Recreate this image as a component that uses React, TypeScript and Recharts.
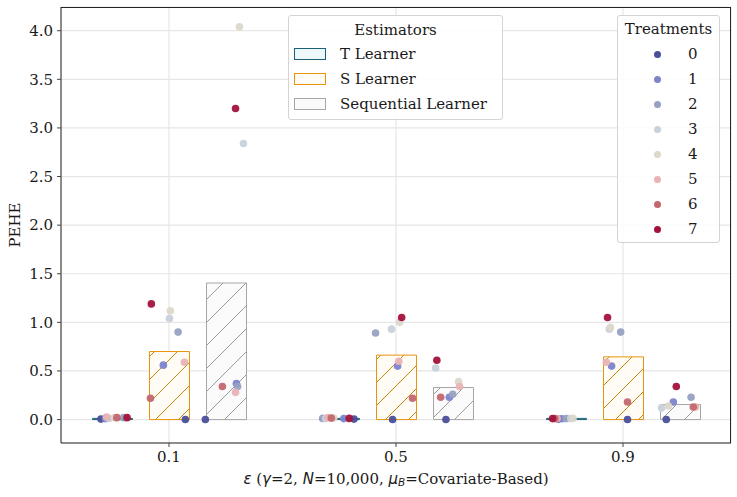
import React from "react";
import { ComposedChart, Bar, Scatter, XAxis, YAxis, CartesianGrid, Label } from "recharts";

const epsilons = ["0.1", "0.5", "0.9"];
const estimators = ["T Learner", "S Learner", "Sequential Learner"];
const treatments = ["0", "1", "2", "3", "4", "5", "6", "7"];
const treatmentColors = ["#4a4f9a", "#7c84cc", "#97a2c2", "#c9d1db", "#dcd8ca", "#e9b3b4", "#c4676f", "#a3123c"];
const estimatorEdge = ["#1b6175", "#e8940c", "#a6a6a6"];
const estimatorFill = ["#eef7f9", "#fffcf5", "#fbfbfb"];
const estimatorHatch = ["#1b6175", "#c8860f", "#9a9a9a"];

const yTicks = [0, 0.5, 1, 1.5, 2, 2.5, 3, 3.5, 4];

// Bar heights (mean PEHE) per epsilon
const tLearnerPEHE = [0.012, 0.012, 0.012];
const sLearnerPEHE = [0.70, 0.663, 0.645];
const seqLearnerPEHE = [1.405, 0.33, 0.155];

// Per-treatment PEHE at epsilon 0.1, 0.5, 0.9
const tLearnerPoints = [
  [0.005, 0.005, 0.005],
  [0.01, 0.01, 0.008],
  [0.02, 0.012, 0.01],
  [0.012, 0.01, 0.01],
  [0.02, 0.015, 0.012],
  [0.025, 0.02, 0.01],
  [0.02, 0.015, 0.01],
  [0.02, 0.012, 0.01],
];
const sLearnerPoints = [
  [0, 0, 0],
  [0.56, 0.55, 0.55],
  [0.9, 0.89, 0.9],
  [1.04, 0.93, 0.93],
  [1.12, 1.0, 0.95],
  [0.59, 0.6, 0.59],
  [0.22, 0.22, 0.18],
  [1.19, 1.05, 1.05],
];
const seqLearnerPoints = [
  [0, 0, 0],
  [0.37, 0.23, 0.18],
  [0.34, 0.26, 0.23],
  [2.84, 0.53, 0.12],
  [4.04, 0.39, 0.14],
  [0.28, 0.34, 0.13],
  [0.34, 0.23, 0.13],
  [3.2, 0.61, 0.34],
];

// Strip-plot jitter (category units) per treatment at epsilon 0.1, 0.5, 0.9
const tLearnerJitter = [
  [-0.05, 0.065, -0.035],
  [-0.03, 0.02, -0.02],
  [0.05, -0.073, 0.0],
  [-0.015, -0.06, 0.02],
  [0.01, -0.024, 0.03],
  [-0.025, -0.05, -0.04],
  [0.02, -0.035, -0.05],
  [0.065, 0.044, -0.06],
];
const sLearnerJitter = [
  [0.072, -0.015, 0.02],
  [-0.025, 0.007, -0.05],
  [0.04, -0.09, -0.01],
  [0.002, -0.02, -0.06],
  [0.006, 0.016, -0.055],
  [0.068, 0.012, -0.073],
  [-0.082, 0.073, 0.02],
  [-0.078, 0.025, -0.068],
];
const seqLearnerJitter = [
  [-0.09, -0.03, -0.059],
  [0.047, -0.015, -0.028],
  [0.052, 0.0, 0.05],
  [0.078, -0.075, -0.08],
  [0.06, 0.026, -0.05],
  [0.043, 0.03, 0.07],
  [-0.015, -0.053, 0.06],
  [0.043, -0.07, -0.015],
];

const DODGE = 0.25;
const FONT = "'DejaVu Serif', serif";

const barData = epsilons.map((e, i) => ({
  eps: e,
  t: tLearnerPEHE[i],
  s: sLearnerPEHE[i],
  seq: seqLearnerPEHE[i],
}));

const pointSets = [tLearnerPoints, sLearnerPoints, seqLearnerPoints];
const jitterSets = [tLearnerJitter, sLearnerJitter, seqLearnerJitter];

const scatterData = treatments.map((_, j) => {
  const pts: { x: number; y: number }[] = [];
  epsilons.forEach((_, i) => {
    estimators.forEach((_, k) => {
      pts.push({ x: i + (k - 1) * DODGE + jitterSets[k][j][i], y: pointSets[k][j][i] });
    });
  });
  return pts;
});

const XLabel = (props: any) => {
  const vb = props.viewBox || {};
  const cx = vb.x + vb.width / 2;
  const it = { fontFamily: "'DejaVu Sans', sans-serif", fontStyle: "italic" } as any;
  return (
    <text x={cx} y={vb.y + 36} textAnchor="middle" dominantBaseline="central" fontFamily={FONT} fontSize={15} fill="#1a1a1a">
      <tspan {...it}>ε</tspan>
      <tspan> (</tspan>
      <tspan {...it}>γ</tspan>
      <tspan>=2, </tspan>
      <tspan {...it}>N</tspan>
      <tspan>=10,000, </tspan>
      <tspan {...it}>μ</tspan>
      <tspan {...it} fontSize={10.5} dy={3}>B</tspan>
      <tspan dy={-3}>=Covariate-Based)</tspan>
    </text>
  );
};

const YLabel = (props: any) => {
  const vb = props.viewBox || {};
  const cy = vb.y + vb.height / 2;
  const x = 15;
  return (
    <text x={x} y={cy} transform={`rotate(-90, ${x}, ${cy})`} textAnchor="middle" dominantBaseline="central" fontFamily={FONT} fontSize={15} fill="#1a1a1a">
      PEHE
    </text>
  );
};

const makeDot = (color: string) => (props: any) => {
  if (props.cx == null || props.cy == null) return <g />;
  return <circle cx={props.cx} cy={props.cy} r={3.8} fill={color} fillOpacity={0.95} />;
};

const hatchIds = ["hatchT", "hatchS", "hatchSeq"];
const barKeys = ["t", "s", "seq"];

export default function App() {
  return (
    <div style={{ position: "absolute", left: 0, top: 0, width: 737, height: 497, background: "#fff" }}>
      <ComposedChart
        width={737}
        height={497}
        data={barData}
        margin={{ top: 7, right: 6, bottom: 24, left: 0 }}
        barSize={40}
        barGap={17}
      >
        <defs>
          {hatchIds.map((id, k) => (
            <pattern key={id} id={id} patternUnits="userSpaceOnUse" width={23} height={23}>
              <rect width={23} height={23} fill={estimatorFill[k]} />
              <path d="M-1,1 l2,-2 M0,23 l23,-23 M22,24 l2,-2" stroke={estimatorHatch[k]} strokeWidth={1} />
            </pattern>
          ))}
        </defs>
        <CartesianGrid stroke="#e6e6e6" strokeWidth={1.2} />
        <XAxis
          dataKey="eps"
          type="category"
          padding={{ left: -5.5, right: -5.5 }}
          height={30}
          tickSize={4}
          tickMargin={4}
          tick={{ fontFamily: FONT, fontSize: 15, fill: "#1a1a1a" }}
          tickLine={{ stroke: "#444" }}
          axisLine={{ stroke: "#262626" }}
        >
          <Label content={XLabel} />
        </XAxis>
        <XAxis
          xAxisId="num"
          dataKey="x"
          type="number"
          domain={[-0.476, 2.476]}
          allowDataOverflow
          hide
        />
        <YAxis
          type="number"
          domain={[-0.241, 4.244]}
          allowDataOverflow
          ticks={yTicks}
          tickFormatter={(v: number) => v.toFixed(1)}
          width={61}
          tickSize={4}
          tickMargin={4}
          tick={{ fontFamily: FONT, fontSize: 15, fill: "#1a1a1a" }}
          tickLine={{ stroke: "#444" }}
          axisLine={{ stroke: "#262626" }}
        >
          <Label content={YLabel} />
        </YAxis>
        {barKeys.map((key, k) => (
          <Bar
            key={key}
            dataKey={key}
            fill={`url(#${hatchIds[k]})`}
            stroke={estimatorEdge[k]}
            strokeWidth={1}
            isAnimationActive={false}
          />
        ))}
        {treatments.map((t, j) => (
          <Scatter
            key={t}
            name={t}
            xAxisId="num"
            data={scatterData[j]}
            dataKey="y"
            fill={treatmentColors[j]}
            shape={makeDot(treatmentColors[j])}
            isAnimationActive={false}
          />
        ))}
      </ComposedChart>

      <div
        style={{
          position: "absolute",
          left: 61,
          top: 7,
          width: 670,
          height: 436,
          boxSizing: "border-box",
          borderTop: "1px solid #262626",
          borderRight: "1px solid #262626",
          pointerEvents: "none",
        }}
      />

      <div
        style={{
          position: "absolute",
          left: 288,
          top: 15,
          width: 215,
          height: 105,
          boxSizing: "border-box",
          background: "rgba(255,255,255,0.85)",
          border: "1px solid #d4d4d4",
          borderRadius: 3,
          fontFamily: FONT,
          fontSize: 15,
          color: "#1a1a1a",
        }}
      >
        <div style={{ position: "absolute", left: 0, right: 0, top: 4, textAlign: "center", lineHeight: "20px" }}>Estimators</div>
        {estimators.map((e, k) => (
          <div key={e}>
            <div
              style={{
                position: "absolute",
                left: 5,
                top: 32 + 25 * k,
                width: 32,
                height: 12,
                boxSizing: "border-box",
                border: `1px solid ${estimatorEdge[k]}`,
                background: estimatorFill[k],
              }}
            />
            <div style={{ position: "absolute", left: 51, top: 28 + 25 * k, lineHeight: "20px", whiteSpace: "nowrap" }}>{e}</div>
          </div>
        ))}
      </div>

      <div
        style={{
          position: "absolute",
          left: 617,
          top: 15,
          width: 103,
          height: 228,
          boxSizing: "border-box",
          background: "rgba(255,255,255,0.85)",
          border: "1px solid #d4d4d4",
          borderRadius: 3,
          fontFamily: FONT,
          fontSize: 15,
          color: "#1a1a1a",
        }}
      >
        <div style={{ position: "absolute", left: 0, right: 0, top: 3, textAlign: "center", lineHeight: "20px" }}>Treatments</div>
        {treatments.map((t, j) => (
          <div key={t}>
            <div
              style={{
                position: "absolute",
                left: 36,
                top: 35 + 25 * j,
                width: 7,
                height: 7,
                borderRadius: "50%",
                background: treatmentColors[j],
              }}
            />
            <div style={{ position: "absolute", left: 70, top: 28 + 25 * j, lineHeight: "20px" }}>{t}</div>
          </div>
        ))}
      </div>
    </div>
  );
}
